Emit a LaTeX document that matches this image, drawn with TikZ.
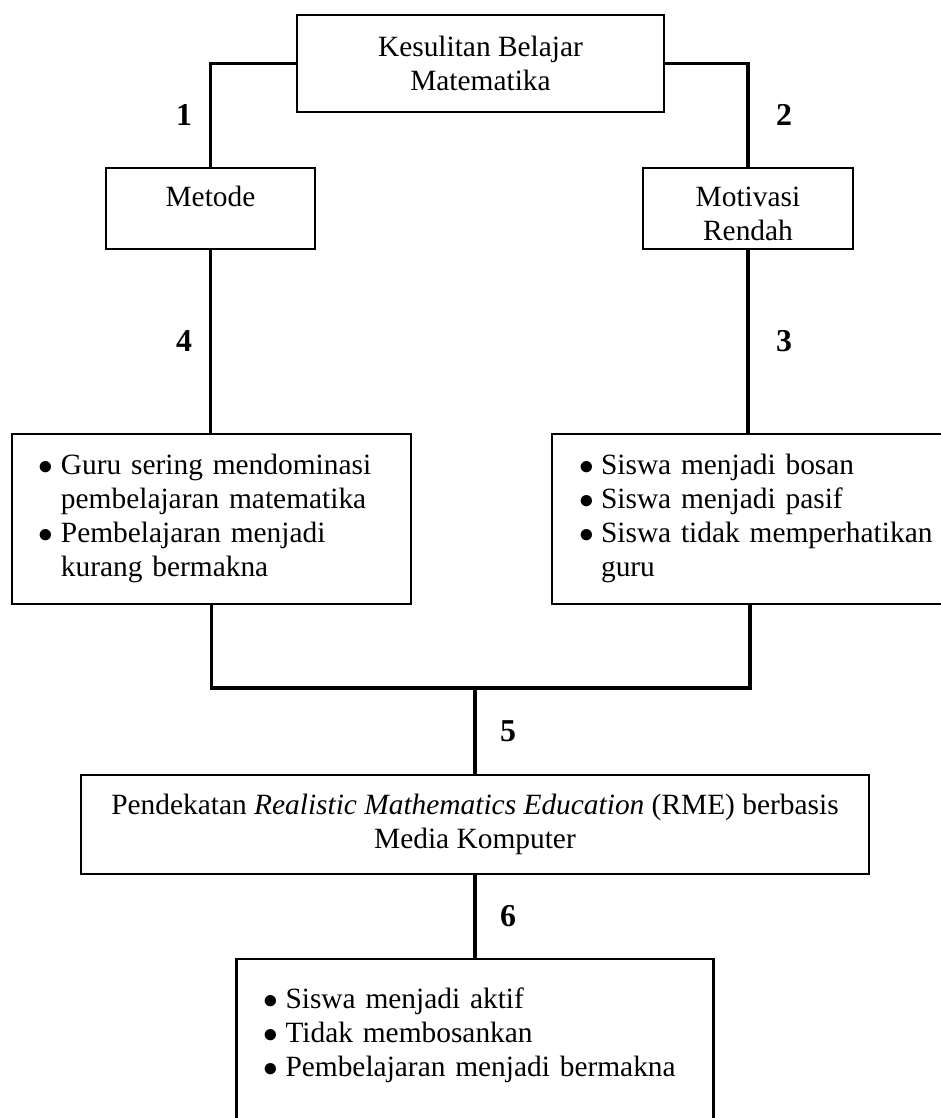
\documentclass[tikz,border=0pt]{standalone}
\usepackage{fontspec}
\setmainfont{Liberation Serif}
\newcommand{\fs}{\fontsize{12pt}{13.9pt}\selectfont}
\newcommand{\blt}{\makebox[9pt][l]{$\bullet$}}
\newcommand{\topgap}{\rule{0pt}{12pt}}

\begin{document}
\begin{tikzpicture}[x=0.4082pt, y=-0.4082pt,
  box/.style={draw, line width=1pt, inner sep=0pt, align=center, font=\fs},
  listbox/.style={draw, line width=1pt, inner xsep=11pt, inner ysep=0pt, align=left, font=\fs},
  link/.style={line width=1.6pt},
  num/.style={font=\fontsize{13pt}{15pt}\selectfont\bfseries}]
  % Page frame
  \useasboundingbox (0,0) rectangle (941,1118);
  \clip (0,0) rectangle (941,1118);

  % Boxes
  \node[box, minimum width=149.8pt, minimum height=39.6pt] (kb) at (480.5,63.5) {Kesulitan Belajar\\Matematika};
  \node[box, minimum width=85.3pt, minimum height=33.1pt] (met) at (210.5,208.5) {\topgap Metode\\\mbox{}};
  \node[box, minimum width=85.7pt, minimum height=33.1pt] (mot) at (748,208.5) {\topgap Motivasi\\Rendah};
  \node[listbox, text width=140.9pt, minimum height=69.4pt] (gl) at (211.5,519) {%
    \begin{tabular}{@{}l@{}l@{}}
      \blt & Guru sering mendominasi\\
           & pembelajaran matematika\\
      \blt & Pembelajaran menjadi\\
           & kurang bermakna
    \end{tabular}};
  \node[listbox, text width=139.6pt, minimum height=69.4pt] (rl) at (750,519) {%
    \begin{tabular}{@{}l@{}l@{}}
      \blt & Siswa menjadi bosan\\
      \blt & Siswa menjadi pasif\\
      \blt & Siswa tidak memperhatikan\\
           & guru
    \end{tabular}};
  \node[box, minimum width=321.7pt, minimum height=40.4pt] (rme) at (475,824.5)
    {Pendekatan \textit{Realistic Mathematics Education} (RME) berbasis\\Media Komputer};
  \node[listbox, text width=172.7pt, inner ysep=10.5pt, anchor=north] (out) at (475,958) {%
    \begin{tabular}{@{}l@{}l@{}}
      \blt & Siswa menjadi aktif\\
      \blt & Tidak membosankan\\
      \blt & Pembelajaran menjadi bermakna\\[10pt]
    \end{tabular}};

  % Connectors
  \coordinate (jn) at (475,688);
  \draw[link] (kb.west) -| (met.north);
  \draw[link] (kb.east) -| (mot.north);
  \draw[link] (met.south) -- (met.south |- gl.north);
  \draw[link] (mot.south) -- (mot.south |- rl.north);
  \draw[link] (gl.south) |- (jn) -| (rl.south);
  \draw[link] (jn) -- (rme.north);
  \draw[link] (rme.south) -- (out.north);

  % Step numbers
  \node[num] (n1) at (184,115) {1};
  \node[num] (n2) at (784,115) {2};
  \node[num] (n3) at (784,341) {3};
  \node[num] (n4) at (184,341) {4};
  \node[num] (n5) at (508,731) {5};
  \node[num] (n6) at (508,916) {6};
\end{tikzpicture}
\end{document}
